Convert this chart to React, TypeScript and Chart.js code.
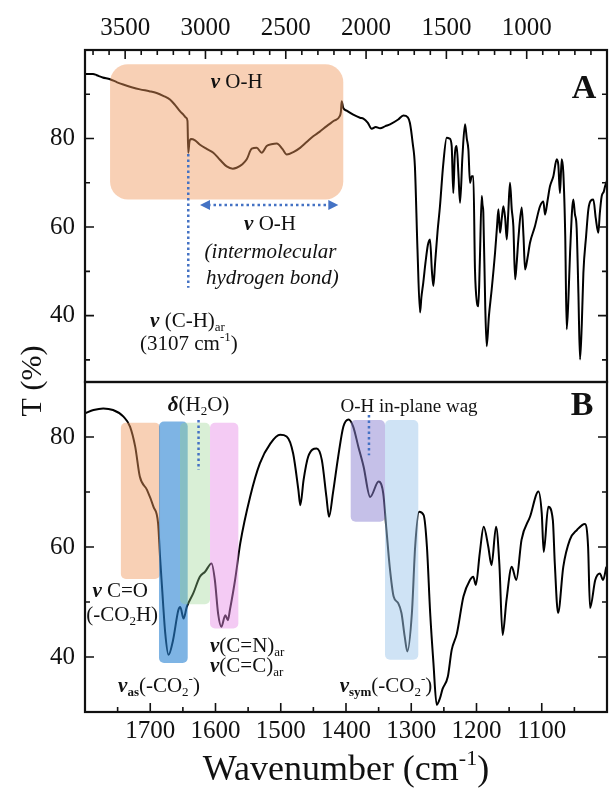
import React, { useEffect, useRef } from 'react';
import { Chart, registerables } from 'chart.js';
Chart.register(...registerables);

const SERIF = '"Liberation Serif", "Times New Roman", Times, serif';
const R = (s: number) => `${s}px ${SERIF}`;
const I = (s: number) => `italic ${s}px ${SERIF}`;
const B = (s: number) => `bold ${s}px ${SERIF}`;
const BI = (s: number) => `italic bold ${s}px ${SERIF}`;

// ---------- Panel A (full range) ----------
const wnA = [
  3750, 3700, 3677, 3640, 3594, 3550, 3512, 3460, 3408, 3350,
  3304, 3260, 3221, 3190, 3159, 3135, 3121, 3112, 3107, 3100,
  3090, 3065, 3034, 2990, 2951, 2910, 2868, 2830, 2806, 2770,
  2743, 2712, 2681, 2650, 2619, 2590, 2556, 2520, 2494, 2450,
  2411, 2370, 2329, 2290, 2245, 2200, 2165, 2157, 2152, 2142,
  2121, 2080, 2038, 2017, 1990, 1965, 1940, 1913, 1880, 1851,
  1800, 1768, 1740, 1727, 1710, 1696, 1680, 1664, 1656, 1644,
  1630, 1615, 1602, 1590, 1581, 1570, 1555, 1540, 1520, 1498,
  1480, 1467, 1457, 1448, 1436, 1425, 1415, 1400, 1384, 1373,
  1363, 1353, 1342, 1332, 1322, 1310, 1301, 1292, 1280, 1275,
  1270, 1258, 1249, 1235, 1218, 1197, 1185, 1176, 1166, 1155,
  1145, 1134, 1124, 1115, 1104, 1093, 1083, 1072, 1062, 1052,
  1031, 1020, 1010, 995, 979, 950, 917, 896, 886, 870,
  855, 834, 813, 803, 793, 782, 772, 760, 751, 740,
  730, 710, 700, 689, 678, 668, 657, 647, 630, 616,
  600, 585, 570, 554, 545, 533, 520, 512, 500,
];
const tA = [
  94.6, 94.6, 94.3, 93.8, 93.4, 92.7, 92.2, 91.6, 91.1, 90.7,
  90.3, 89.6, 88.8, 87.6, 86.2, 85.3, 84.7, 84.0, 76.8, 79.2,
  79.9, 79.6, 78.6, 77.6, 76.8, 75.2, 73.7, 73.2, 73.4, 74.2,
  75.3, 77.7, 77.9, 76.8, 78.3, 78.7, 78.9, 77.6, 76.4, 77.0,
  77.9, 79.2, 80.5, 81.5, 82.8, 84.0, 85.0, 86.0, 88.4, 86.9,
  86.3, 85.4, 84.7, 84.5, 83.6, 82.2, 82.6, 82.3, 82.8, 83.2,
  84.3, 85.2, 84.8, 83.5, 79.0, 73.7, 55.0, 40.7, 44.0, 47.4,
  52.0, 56.0, 57.2, 50.0, 46.7, 52.0, 59.0, 64.7, 74.0, 80.2,
  80.0, 78.3, 67.7, 76.0, 78.3, 72.0, 65.5, 76.0, 83.2, 80.0,
  77.5, 70.0, 71.5, 71.5, 50.4, 43.0, 42.1, 52.0, 67.0, 65.0,
  63.2, 42.0, 33.1, 40.0, 45.9, 54.2, 60.0, 64.0, 58.7, 62.0,
  64.7, 62.0, 57.2, 63.0, 70.0, 64.0, 60.2, 48.2, 52.0, 57.2,
  64.4, 58.0, 50.4, 53.0, 56.5, 60.0, 64.7, 65.8, 62.8, 66.0,
  69.2, 71.5, 75.3, 74.0, 67.7, 75.3, 72.3, 58.0, 36.9, 44.0,
  54.2, 66.2, 63.0, 59.8, 45.0, 30.1, 38.0, 49.7, 58.0, 64.0,
  66.0, 66.2, 62.0, 58.7, 63.0, 67.0, 68.0, 69.2, 70.5,
];

// ---------- Panel B (1800-1000 zoom) ----------
const wnB = [
  1800, 1787, 1772, 1757, 1741, 1731, 1723, 1716, 1705, 1695,
  1688, 1685, 1682, 1677, 1672, 1665, 1657, 1654, 1649, 1644,
  1634, 1624, 1616, 1606, 1601, 1596, 1591, 1585, 1581, 1578,
  1570, 1562, 1547, 1532, 1516, 1501, 1491, 1481, 1473, 1470,
  1465, 1458, 1445, 1437, 1430, 1426, 1420, 1412, 1404, 1396,
  1389, 1381, 1373, 1363, 1350, 1343, 1338, 1333, 1327, 1320,
  1315, 1310, 1306, 1299, 1294, 1288, 1281, 1276, 1271, 1266,
  1261, 1256, 1252, 1244, 1238, 1230, 1220, 1210, 1205, 1201,
  1195, 1189, 1182, 1177, 1170, 1165, 1160, 1154, 1146, 1139,
  1131, 1118, 1105, 1100, 1097, 1090, 1083, 1080, 1075, 1067,
  1057, 1046, 1034, 1029, 1026, 1018, 1011, 1006, 1001,
];
const tB = [
  84.3, 84.9, 85.2, 84.9, 83.7, 81.9, 78.2, 72.8, 70.4, 67.3,
  64.3, 58.2, 52.8, 44.3, 40.4, 43.1, 48.5, 49.1, 47.0, 49.1,
  51.6, 54.6, 55.5, 57.0, 54.0, 47.9, 45.5, 47.6, 46.7, 48.5,
  54.0, 60.7, 69.1, 75.2, 78.8, 80.4, 80.1, 77.0, 70.4, 67.6,
  72.2, 76.4, 77.9, 75.8, 69.1, 65.5, 69.8, 76.4, 81.9, 83.2,
  81.9, 78.2, 74.6, 69.1, 71.9, 69.8, 63.1, 56.4, 51.0, 49.8,
  48.0, 43.7, 41.0, 48.0, 60.1, 66.4, 65.8, 60.1, 48.0, 38.9,
  31.3, 32.5, 34.2, 36.4, 41.3, 44.3, 51.0, 54.0, 54.6, 53.1,
  58.9, 63.7, 60.1, 56.7, 63.7, 57.0, 44.0, 50.4, 56.4, 54.0,
  61.3, 65.5, 70.1, 66.1, 59.1, 67.3, 64.9, 57.0, 48.0, 56.4,
  61.3, 63.1, 64.2, 60.1, 48.9, 54.0, 55.2, 54.0, 56.4,
];

// ---------- tick labels ----------
const xLabelsA = [1000, 1500, 2000, 2500, 3000, 3500];
const xMinorA = [600, 700, 800, 900, 1100, 1200, 1300, 1400, 1600, 1700, 1800, 1900, 2100, 2200, 2300, 2400, 2600, 2700, 2800, 2900, 3100, 3200, 3300, 3400, 3600, 3700];
const yLabelsA = [40, 60, 80];
const yMinorA = [30, 50, 70, 90];
const xLabelsB = [1100, 1200, 1300, 1400, 1500, 1600, 1700];
const xMinorB = [1050, 1150, 1250, 1350, 1450, 1550, 1650, 1750];
const yLabelsB = [40, 60, 80];
const yMinorB = [50, 70];

type Seg = { t: string; f: string; dy?: number };

function rich(ctx: CanvasRenderingContext2D, segs: Seg[], x: number, y: number, align: 'center' | 'left' = 'center') {
  ctx.save();
  ctx.textBaseline = 'middle';
  ctx.textAlign = 'left';
  ctx.fillStyle = '#111';
  let w = 0;
  for (const s of segs) { ctx.font = s.f; w += ctx.measureText(s.t).width; }
  let cx = align === 'center' ? x - w / 2 : x;
  for (const s of segs) {
    ctx.font = s.f;
    ctx.fillText(s.t, cx, y + (s.dy || 0));
    cx += ctx.measureText(s.t).width;
  }
  ctx.restore();
}

function box(ctx: CanvasRenderingContext2D, x1: number, y1: number, x2: number, y2: number, r: number, color: string) {
  ctx.save();
  ctx.beginPath();
  (ctx as any).roundRect(Math.min(x1, x2), Math.min(y1, y2), Math.abs(x2 - x1), Math.abs(y2 - y1), r);
  ctx.fillStyle = color;
  ctx.fill();
  ctx.restore();
}

function dotted(ctx: CanvasRenderingContext2D, x1: number, y1: number, x2: number, y2: number) {
  ctx.save();
  ctx.strokeStyle = '#4472c4';
  ctx.lineWidth = 2.5;
  ctx.setLineDash([2.5, 3]);
  ctx.beginPath();
  ctx.moveTo(x1, y1);
  ctx.lineTo(x2, y2);
  ctx.stroke();
  ctx.restore();
}

function dArrow(ctx: CanvasRenderingContext2D, xl: number, xr: number, y: number) {
  dotted(ctx, xl + 8, y, xr - 8, y);
  ctx.save();
  ctx.fillStyle = '#4472c4';
  ctx.beginPath();
  ctx.moveTo(xl, y); ctx.lineTo(xl + 10, y - 5); ctx.lineTo(xl + 10, y + 5); ctx.closePath(); ctx.fill();
  ctx.beginPath();
  ctx.moveTo(xr, y); ctx.lineTo(xr - 10, y - 5); ctx.lineTo(xr - 10, y + 5); ctx.closePath(); ctx.fill();
  ctx.restore();
}

function frameAndTicks(c: any, xMaj: number[], xMin: number[], xSide: 'top' | 'bottom', yMaj: number[], yMin: number[]) {
  const { ctx, chartArea: a } = c;
  const xs = c.scales.x, ys = c.scales.y;
  ctx.save();
  ctx.strokeStyle = '#111';
  ctx.lineWidth = 1.6;
  ctx.beginPath();
  const yT = (v: number, len: number) => {
    const p = ys.getPixelForValue(v);
    ctx.moveTo(a.left, p); ctx.lineTo(a.left + len, p);
    ctx.moveTo(a.right, p); ctx.lineTo(a.right - len, p);
  };
  yMaj.forEach((v) => yT(v, 9));
  yMin.forEach((v) => yT(v, 5));
  const xT = (v: number, len: number) => {
    const p = xs.getPixelForValue(v);
    if (xSide === 'top') { ctx.moveTo(p, a.top); ctx.lineTo(p, a.top + len); }
    else { ctx.moveTo(p, a.bottom); ctx.lineTo(p, a.bottom - len); }
  };
  xMaj.forEach((v) => xT(v, 9));
  xMin.forEach((v) => xT(v, 5));
  ctx.stroke();
  ctx.lineWidth = 2.2;
  ctx.strokeRect(a.left, a.top, a.right - a.left, a.bottom - a.top);
  ctx.restore();
}

const nu = (s = 21): Seg => ({ t: 'ν', f: BI(s) });

function drawA(c: any) {
  const { ctx, chartArea: a } = c;
  const X = (v: number) => c.scales.x.getPixelForValue(v);
  const Y = (v: number) => c.scales.y.getPixelForValue(v);
  box(ctx, X(3594), Y(96.8), X(2142), Y(66.2), 18, 'rgba(240,150,90,0.45)');
  dotted(ctx, X(3107), Y(76.5), X(3107), Y(46.3));
  dArrow(ctx, X(3034), X(2173), Y(65.0));
  rich(ctx, [nu(), { t: ' O-H', f: R(21) }], X(2806), Y(92.6));
  rich(ctx, [nu(), { t: ' O-H', f: R(21) }], X(2598), Y(60.6));
  rich(ctx, [{ t: '(intermolecular', f: I(21) }], X(2595), Y(54.2));
  rich(ctx, [{ t: 'hydrogen bond)', f: I(21) }], X(2583), Y(48.3));
  rich(ctx, [nu(), { t: ' (C-H)', f: R(21) }, { t: 'ar', f: R(13), dy: 6 }], X(3112), Y(38.7));
  rich(ctx, [{ t: '(3107 cm', f: R(21) }, { t: '-1', f: R(13), dy: -7 }, { t: ')', f: R(21) }], X(3103), Y(33.5));
  rich(ctx, [{ t: 'A', f: B(34) }], a.right - 23, a.top + 39);
  frameAndTicks(c, xLabelsA, xMinorA, 'top', yLabelsA, yMinorA);
}

function drawB(c: any) {
  const { ctx, chartArea: a } = c;
  const X = (v: number) => c.scales.x.getPixelForValue(v);
  const Y = (v: number) => c.scales.y.getPixelForValue(v);
  box(ctx, X(1745), Y(82.6), X(1685), Y(54.2), 5, 'rgba(240,150,90,0.45)');
  box(ctx, X(1686.6), Y(82.8), X(1642.6), Y(38.9), 5, 'rgba(40,130,210,0.6)');
  box(ctx, X(1654.4), Y(82.6), X(1608.4), Y(49.6), 5, 'rgba(150,210,140,0.36)');
  box(ctx, X(1608.4), Y(82.6), X(1565), Y(45.2), 5, 'rgba(230,140,230,0.45)');
  box(ctx, X(1392.8), Y(83.1), X(1340.2), Y(64.6), 5, 'rgba(140,130,210,0.5)');
  box(ctx, X(1340.2), Y(83.1), X(1289.2), Y(39.5), 5, 'rgba(160,200,235,0.5)');
  dotted(ctx, X(1626), Y(83.1), X(1626), Y(74.0));
  dotted(ctx, X(1364.8), Y(84.0), X(1364.8), Y(76.7));
  rich(ctx, [{ t: 'δ', f: BI(21) }, { t: '(H', f: R(21) }, { t: '2', f: R(13), dy: 6 }, { t: 'O)', f: R(21) }], X(1626), Y(85.8));
  rich(ctx, [nu(), { t: ' C=O', f: R(21) }], X(1746), Y(51.9));
  rich(ctx, [{ t: '(-CO', f: R(21) }, { t: '2', f: R(13), dy: 6 }, { t: 'H)', f: R(21) }], X(1743), Y(47.6));
  rich(ctx, [nu(), { t: '(C=N)', f: R(21) }, { t: 'ar', f: R(13), dy: 6 }], X(1608.4), Y(41.9), 'left');
  rich(ctx, [nu(), { t: '(C=C)', f: R(21) }, { t: 'ar', f: R(13), dy: 6 }], X(1608.4), Y(38.2), 'left');
  rich(ctx, [nu(), { t: 'as', f: B(13), dy: 6 }, { t: '(-CO', f: R(21) }, { t: '2', f: R(13), dy: 6 }, { t: '-', f: R(13), dy: -7 }, { t: ')', f: R(21) }], X(1686.6), Y(34.7));
  rich(ctx, [{ t: 'O-H in-plane wag', f: R(19) }], X(1303.4), Y(85.5));
  rich(ctx, [nu(), { t: 'sym', f: B(13), dy: 6 }, { t: '(-CO', f: R(21) }, { t: '2', f: R(13), dy: 6 }, { t: '-', f: R(13), dy: -7 }, { t: ')', f: R(21) }], X(1338.7), Y(34.7));
  rich(ctx, [{ t: 'B', f: B(34) }], a.right - 25, a.top + 24);
  frameAndTicks(c, xLabelsB, xMinorB, 'bottom', yLabelsB, yMinorB);
  // axis titles
  ctx.save();
  ctx.translate(33, 381);
  ctx.rotate(-Math.PI / 2);
  rich(ctx, [{ t: 'T (%)', f: R(30) }], 0, 0);
  ctx.restore();
  rich(ctx, [{ t: 'Wavenumber (cm', f: R(36) }, { t: '-1', f: R(22), dy: -12 }, { t: ')', f: R(36) }], (a.left + a.right) / 2, 771);
}

type Spec = {
  wn: number[]; t: number[]; xMin: number; xMax: number; xPos: 'top' | 'bottom'; xLabels: number[];
  yMin: number; yMax: number; yLabels: number[]; padding: any; xAxisH: number; xPad: number; draw: (c: any) => void; id: string;
};

const specA: Spec = {
  wn: wnA, t: tA, xMin: 500, xMax: 3750, xPos: 'top', xLabels: xLabelsA,
  yMin: 25, yMax: 100, yLabels: yLabelsA, padding: { top: 0, left: 0, right: 4, bottom: 411 },
  xAxisH: 50, xPad: 7, draw: drawA, id: 'decoA',
};
const specB: Spec = {
  wn: wnB, t: tB, xMin: 1000, xMax: 1800, xPos: 'bottom', xLabels: xLabelsB,
  yMin: 30, yMax: 90, yLabels: yLabelsB, padding: { top: 382, left: 0, right: 4, bottom: 0 },
  xAxisH: 81, xPad: 4, draw: drawB, id: 'decoB',
};

function buildChart(canvas: HTMLCanvasElement, p: Spec) {
  return new Chart(canvas, {
    type: 'line',
    data: {
      datasets: [{
        data: p.wn.map((w, i) => ({ x: w, y: p.t[i] })),
        borderColor: '#000', borderWidth: 2, pointRadius: 0,
        cubicInterpolationMode: 'monotone', fill: false,
      }],
    },
    options: {
      responsive: false,
      animation: false,
      devicePixelRatio: 1,
      events: [],
      layout: { padding: p.padding },
      plugins: { legend: { display: false }, tooltip: { enabled: false }, title: { display: false } },
      scales: {
        x: {
          type: 'linear', position: p.xPos, min: p.xMin, max: p.xMax, reverse: true,
          grid: { display: false, drawTicks: false }, border: { display: false },
          afterBuildTicks: (s: any) => { s.ticks = p.xLabels.map((v) => ({ value: v })); },
          afterFit: (s: any) => { s.height = p.xAxisH; },
          ticks: { autoSkip: false, maxRotation: 0, color: '#111', font: { family: SERIF, size: 25 }, padding: p.xPad, callback: (v: any) => String(v) },
        },
        y: {
          type: 'linear', position: 'left', min: p.yMin, max: p.yMax,
          grid: { display: false, drawTicks: false }, border: { display: false },
          afterBuildTicks: (s: any) => { s.ticks = p.yLabels.map((v) => ({ value: v })); },
          afterFit: (s: any) => { s.width = 85; },
          ticks: { color: '#111', font: { family: SERIF, size: 25 }, padding: 10, callback: (v: any) => String(v) },
        },
      },
    } as any,
    plugins: [{ id: p.id, afterDatasetsDraw: (c: any) => p.draw(c) }],
  });
}

export default function App() {
  const refA = useRef<HTMLCanvasElement>(null);
  const refB = useRef<HTMLCanvasElement>(null);
  useEffect(() => {
    const ca = buildChart(refA.current!, specA);
    const cb = buildChart(refB.current!, specB);
    return () => { ca.destroy(); cb.destroy(); };
  }, []);
  const cs: React.CSSProperties = { position: 'absolute', left: 0, top: 0, width: 611, height: 793 };
  return (
    <div style={{ position: 'fixed', left: 0, top: 0, width: 611, height: 793, background: '#fff' }}>
      <canvas ref={refA} width={611} height={793} style={cs} />
      <canvas ref={refB} width={611} height={793} style={cs} />
    </div>
  );
}
